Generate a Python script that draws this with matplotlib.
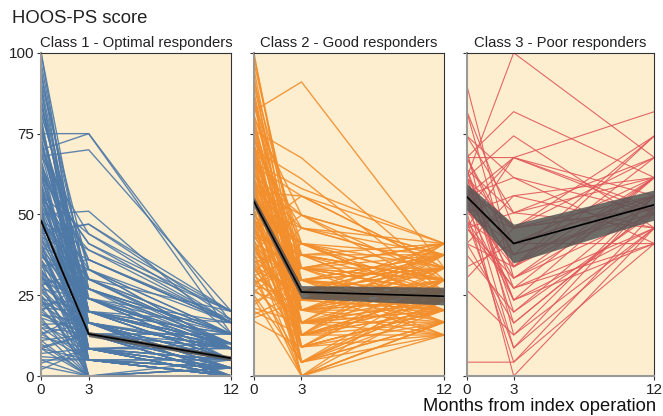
import numpy as np
import matplotlib.pyplot as plt

plt.rcParams.update({
    "font.family": ["Liberation Sans", "DejaVu Sans"],
    "font.size": 10,
})

months = [0, 3, 12]
titles = ["Class 1 - Optimal responders", "Class 2 - Good responders", "Class 3 - Poor responders"]
colors = ["#4e79a7", "#f28e2b", "#e15759"]

# individual trajectories (score at 0, 3, 12 months)
class1 = [
    (100, 13, 0), (100, 24, 5), (95, 8.5, 0), (91, 33, 8.5), (88, 20, 5),
    (85, 16.5, 2.5), (82, 27, 13), (80, 5, 0), (78, 13, 5), (75, 75, 16.5),
    (75, 30, 8.5), (73, 20, 10), (70, 75, 13), (70, 24, 5), (68, 70, 20),
    (67, 8.5, 0), (65, 36, 16.5), (64, 13, 2.5), (62, 16.5, 8.5), (62, 41, 20),
    (60, 0, 0), (59, 27, 10), (58, 20, 5), (56, 44, 16.5), (56, 8.5, 0),
    (55, 13, 8.5), (54, 30, 13), (52, 16.5, 5), (51, 5, 2.5), (50, 51, 13),
    (49, 24, 8.5), (49, 13, 0), (48, 39, 16.5), (47, 20, 10), (46, 8.5, 5),
    (45, 47, 20), (44, 16.5, 0), (43, 13, 13), (42, 27, 5), (41, 0, 2.5),
    (40, 33, 8.5), (39, 5, 0), (38, 20, 10), (38, 13, 5), (37, 24, 13),
    (36, 8.5, 2.5), (35, 16.5, 8.5), (34, 36, 17.5), (33, 13, 0), (33, 5, 5),
    (32, 20, 10), (31, 8.5, 2.5), (30, 27, 13), (30, 13, 8.5), (29, 0, 0),
    (28, 16.5, 5), (27, 5, 2.5), (27, 24, 16.5), (26, 13, 0), (25, 8.5, 10),
    (24, 20, 5), (24, 0, 2.5), (23, 16.5, 8.5), (22, 13, 13), (21, 5, 0),
    (20, 8.5, 5), (20, 30, 20), (19, 13, 8.5), (18, 0, 0), (17, 5, 2.5),
    (16, 16.5, 10), (16, 8.5, 0), (15, 13, 5), (14, 0, 2.5), (13, 5, 0),
    (13, 20, 13), (12, 8.5, 8.5), (10, 0, 0), (9, 13, 5), (8.5, 5, 2.5),
    (8.5, 0, 0), (7, 8.5, 5), (5, 0, 0), (5, 5, 0), (3, 0, 2.5),
    (0, 0, 0), (62, 41, 16.5), (68, 44, 20), (56, 33, 13), (44, 47, 17.5),
    (90, 20, 8.5), (86, 13, 5), (77, 8.5, 2.5), (72, 16.5, 0), (66, 24, 10),
    (63, 5, 0), (57, 27, 8.5), (53, 20, 5), (50, 8.5, 0), (46, 30, 13),
    (42, 16.5, 2.5), (39, 24, 8.5), (35, 0, 0), (31, 13, 5), (28, 33, 16.5),
    (22, 24, 10), (19, 16.5, 8.5), (11, 13, 2.5), (6, 5, 5), (2, 8.5, 0),
    (97, 16.5, 5), (93, 27, 10), (89, 5, 2.5), (84, 20, 8.5), (81, 33, 13),
    (79, 13, 0), (76, 24, 5), (74, 8.5, 8.5), (71, 36, 16.5), (69, 16.5, 2.5),
    (66, 5, 0), (64, 30, 10), (61, 20, 13), (59, 13, 5), (57, 8.5, 2.5),
    (55, 39, 20), (53, 24, 8.5), (52, 0, 0), (50, 16.5, 5), (48, 30, 10),
    (47, 5, 0), (45, 20, 8.5), (43, 36, 16.5), (41, 13, 5), (40, 8.5, 2.5),
    (37, 27, 13), (36, 16.5, 0), (34, 20, 5), (32, 5, 2.5), (29, 24, 8.5),
    (27, 13, 10), (25, 0, 0), (23, 8.5, 5), (21, 20, 16.5), (18, 13, 2.5),
    (15, 5, 0), (13, 16.5, 8.5), (11, 0, 5), (8.5, 13, 2.5), (4, 8.5, 0),
]

class2 = [
    (100, 23.5, 26), (97, 33.4, 29.7), (93, 12.7, 20.4), (90, 26, 33.4), (82, 91, 33.4),
    (88, 20.4, 23.5), (85, 41, 37.5), (80, 16.5, 16.7), (78, 29.7, 26), (76, 67.5, 29.7),
    (75, 9, 12.7), (74, 37.5, 41), (72, 23.5, 20.4), (71, 45.8, 33.4), (70, 61, 26),
    (69, 4.3, 16.7), (68, 26, 23.5), (67, 33.4, 37.5), (66, 20.4, 29.7), (65, 55.7, 41),
    (64, 12.7, 20.4), (63, 29.7, 33.4), (62, 16.5, 12.7), (62, 49.8, 37.5), (61, 0, 16.7),
    (60, 23.5, 26), (59, 41, 29.7), (58, 26, 23.5), (58, 9, 20.4), (57, 55.7, 33.4),
    (56, 33.4, 41), (56, 20.4, 16.7), (55, 29.7, 26), (54, 12.7, 23.5), (54, 37.5, 37.5),
    (53, 23.5, 29.7), (52, 4.3, 12.7), (52, 45.8, 33.4), (51, 16.5, 20.4), (50, 26, 26),
    (50, 33.4, 41), (49, 0, 16.7), (48, 20.4, 23.5), (48, 41, 29.7), (47, 29.7, 37.5),
    (46, 9, 20.4), (46, 23.5, 26), (45, 55.7, 33.4), (44, 12.7, 12.7), (44, 37.5, 29.7),
    (43, 26, 41), (42, 16.5, 23.5), (41, 33.4, 26), (41, 4.3, 16.7), (40, 20.4, 20.4),
    (39, 49.8, 37.5), (38, 29.7, 33.4), (38, 0, 12.7), (37, 23.5, 29.7), (36, 12.7, 23.5),
    (35, 41, 26), (34, 9, 16.7), (33, 26, 37.5), (33, 16.5, 20.4), (32, 45.8, 41),
    (31, 20.4, 29.7), (30, 4.3, 23.5), (29, 33.4, 33.4), (28, 23.5, 20.4), (27, 12.7, 26),
    (26, 37.5, 29.7), (24, 0, 16.7), (23, 29.7, 37.5), (21, 16.5, 23.5), (19, 26, 33.4),
    (17, 9, 20.4), (66, 58, 41), (60, 45.8, 37.5), (70, 29.7, 12.7), (64, 20.4, 33.4),
    (57, 26, 16.7), (53, 41, 23.5), (49, 16.5, 29.7), (45, 33.4, 26), (40, 12.7, 41),
    (36, 23.5, 37.5), (31, 37.5, 20.4), (80, 49.8, 26), (72, 4.3, 23.5), (86, 9, 29.7),
    (99, 29.7, 23.5), (95, 20.4, 33.4), (91, 37.5, 26), (87, 12.7, 37.5), (84, 26, 20.4),
    (81, 33.4, 16.7), (79, 4.3, 29.7), (77, 23.5, 41), (73, 41, 23.5), (71, 16.5, 26),
    (69, 29.7, 20.4), (67, 9, 33.4), (65, 26, 12.7), (63, 37.5, 29.7), (61, 20.4, 37.5),
    (59, 12.7, 26), (57, 33.4, 20.4), (55, 0, 23.5), (53, 29.7, 16.7), (51, 41, 33.4),
    (49, 23.5, 37.5), (47, 4.3, 26), (45, 16.5, 41), (43, 37.5, 20.4), (42, 9, 29.7),
    (40, 29.7, 23.5), (39, 20.4, 12.7), (37, 33.4, 26), (35, 12.7, 33.4), (34, 26, 20.4),
    (32, 0, 29.7), (30, 16.5, 37.5), (28, 41, 23.5), (26, 20.4, 26), (25, 4.3, 20.4),
    (22, 33.4, 29.7), (20, 12.7, 16.7), (18, 23.5, 33.4), (76, 26, 37.5), (58, 49.8, 29.7),
]

class3 = [
    (90, 33.8, 55.8), (82, 45.8, 74.3), (67.6, 81.8, 61.4), (67.6, 67.6, 55.8), (61.4, 100, 67.6),
    (61.4, 74.3, 45.8), (55.8, 67.6, 81.8), (67.6, 41, 61.4), (81.8, 30.3, 55.8), (55.8, 61.4, 50.5),
    (61.4, 37.5, 74.3), (50.5, 55.8, 61.4), (45.8, 67.6, 52), (74.3, 50.5, 67.6), (52, 23.5, 45.8),
    (58, 45.8, 55.8), (48, 27.2, 61.4), (64, 19.8, 50.5), (55.8, 41, 41), (41, 16.4, 52),
    (70, 12.7, 55.8), (52, 33.8, 67.6), (58, 8.7, 45.8), (45.8, 30.3, 50.5), (61.4, 23.5, 61.4),
    (50.5, 4.3, 41), (37.5, 19.8, 55.8), (55.8, 0, 45.8), (48, 37.5, 52), (64, 27.2, 41),
    (4.3, 4.3, 50.5), (26.6, 12.7, 45.8), (33.8, 41, 55.8), (61.4, 16.4, 52), (52, 45.8, 67.6),
    (45.8, 50.5, 61.4), (58, 33.8, 74.3), (41, 55.8, 45.8), (67.6, 37.5, 50.5), (55.8, 30.3, 61.4),
    (74.3, 61.4, 41), (50.5, 41, 55.8), (30.3, 45.8, 52), (64, 50.5, 45.8), (48, 8.7, 55.8),
    (58, 23.5, 41), (52, 67.6, 50.5), (41, 33.8, 61.4), (61.4, 45.8, 52), (45.8, 27.2, 45.8),
]

# class means with confidence band
means = [[48, 13, 5.5], [54, 26, 24.7], [55.5, 41, 53]]
lower = [[47.2, 12.2, 4.8], [52.5, 24, 22], [51.5, 35, 48.3]]
upper = [[48.8, 13.8, 6.2], [55.5, 28, 27.5], [59.5, 47, 57.6]]
line_widths = [1.0, 1.0, 0.8]

fig = plt.figure(figsize=(6.63, 4.16), dpi=100)
lefts = [0.062, 0.383, 0.704]
widths = [0.287, 0.287, 0.283]
bg = "#fdeed0"

for i, data in enumerate([class1, class2, class3]):
    ax = fig.add_axes([lefts[i], 0.096, widths[i], 0.777])
    ax.set_facecolor(bg)
    for traj in data:
        ax.plot(months, traj, color=colors[i], lw=line_widths[i], alpha=0.9, zorder=2)
    ax.fill_between(months, lower[i], upper[i], color="#555555", alpha=0.85, lw=0, zorder=3)
    ax.plot(months, means[i], color="black", lw=1.2, zorder=4)
    ax.set_xlim(0, 12)
    ax.set_ylim(0, 100)
    ax.set_xticks(months)
    ax.set_yticks([0, 25, 50, 75, 100])
    if i > 0:
        ax.set_yticklabels([])
    ax.set_title(titles[i], fontsize=10.7, pad=4, color="#222222")
    for s in ["left", "bottom"]:
        ax.spines[s].set_color("#999999")
        ax.spines[s].set_linewidth(1.5)
    for s in ["top", "right"]:
        ax.spines[s].set_color("#333333")
        ax.spines[s].set_linewidth(0.8)
    ax.tick_params(length=3, width=0.8, color="#333333", labelsize=11, labelcolor="#222222", pad=2)

fig.text(0.018, 0.945, "HOOS-PS score", fontsize=13.3, color="#222222")
fig.text(0.638, 0.012, "Months from index operation", fontsize=13.2, color="#111111")

fig.savefig("out.png", dpi=100, facecolor="white")
